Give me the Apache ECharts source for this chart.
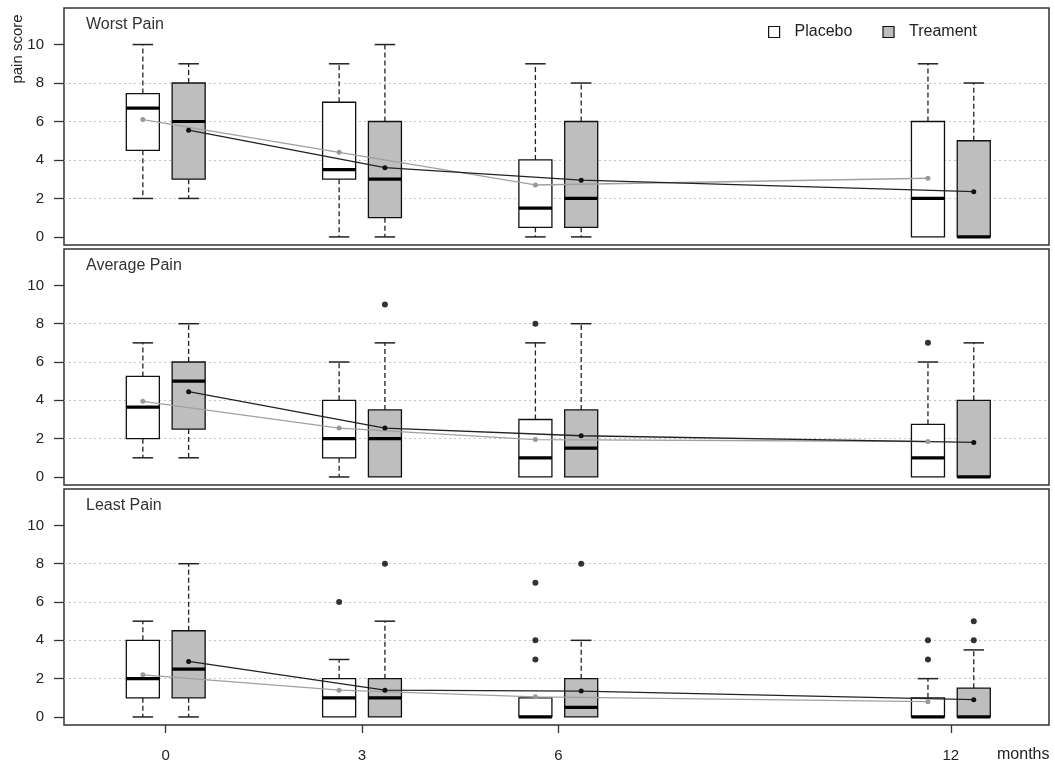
<!DOCTYPE html>
<html><head><meta charset="utf-8">
<script src="https://cdn.jsdelivr.net/npm/echarts@6/dist/echarts.min.js"></script>
<style>html,body{margin:0;padding:0;background:#fff}#c{width:1055px;height:763px}</style>
</head><body><div id="c"></div>
<script>
// ---- data ----
const months = [0, 3, 6, 12];
const panelTitles = ['Worst Pain', 'Average Pain', 'Least Pain'];
const yTicks = [0, 2, 4, 6, 8, 10];
const gridValues = [2, 4, 6, 8];
// box stats: [lower whisker, Q1, median, Q3, upper whisker]
const worstPlacebo = [[2,4.5,6.7,7.45,10],[0,3,3.5,7,9],[0,0.5,1.5,4,9],[0,0,2,6,9]];
const worstTreat   = [[2,3,6,8,9],[0,1,3,6,10],[0,0.5,2,6,8],[0,0,0,5,8]];
const worstMeanP = [6.1, 4.4, 2.7, 3.05];
const worstMeanT = [5.55, 3.6, 2.95, 2.35];
const worstOutP = [[],[],[],[]];
const worstOutT = [[],[],[],[]];

const avgPlacebo = [[1,2,3.65,5.25,7],[0,1,2,4,6],[0,0,1,3,7],[0,0,1,2.75,6]];
const avgTreat   = [[1,2.5,5,6,8],[0,0,2,3.5,7],[0,0,1.5,3.5,8],[0,0,0,4,7]];
const avgMeanP = [3.95, 2.55, 1.95, 1.85];
const avgMeanT = [4.45, 2.55, 2.15, 1.8];
const avgOutP = [[],[],[8],[7]];
const avgOutT = [[],[9],[],[]];

const leastPlacebo = [[0,1,2,4,5],[0,0,1,2,3],[0,0,0,1,1],[0,0,0,1,2]];
const leastTreat   = [[0,1,2.5,4.5,8],[0,0,1,2,5],[0,0,0.5,2,4],[0,0,0,1.5,3.5]];
const leastMeanP = [2.2, 1.4, 1.05, 0.8];
const leastMeanT = [2.9, 1.4, 1.35, 0.9];
const leastOutP = [[],[6],[7,4,3],[4,3]];
const leastOutT = [[],[8],[8],[5,4]];

// ---- layout/style ----
const OFF = 0.35, BOX_W = 0.505;
const FONT = 'Liberation Sans';
const panels = [
  {p: worstPlacebo, t: worstTreat, mp: worstMeanP, mt: worstMeanT, op: worstOutP, ot: worstOutT},
  {p: avgPlacebo, t: avgTreat, mp: avgMeanP, mt: avgMeanT, op: avgOutP, ot: avgOutT},
  {p: leastPlacebo, t: leastTreat, mp: leastMeanP, mt: leastMeanT, op: leastOutP, ot: leastOutT}
];
const gridTops = [8, 249, 489], gridHeights = [237, 236, 236];

function boxSeries(name, gi, stats, off, fill) {
  return {
    name, type: 'custom', xAxisIndex: gi, yAxisIndex: gi, z: 2,
    data: months.map((m, i) => [m + off].concat(stats[i])),
    encode: {x: 0, y: [1, 2, 3, 4, 5]},
    renderItem(params, api) {
      const x = api.value(0), lo = api.value(1), q1 = api.value(2), med = api.value(3), q3 = api.value(4), hi = api.value(5);
      const half = api.size([BOX_W, 0])[0] / 2, cap = half * 0.62;
      const cx = api.coord([x, 0])[0];
      const y = v => api.coord([x, v])[1];
      const ch = [];
      const ws = {stroke: '#222', lineWidth: 1.3, lineDash: [5, 3]};
      const cs = {stroke: '#222', lineWidth: 1.5};
      if (hi > q3) {
        ch.push({type: 'line', shape: {x1: cx, y1: y(q3), x2: cx, y2: y(hi)}, style: ws});
        ch.push({type: 'line', shape: {x1: cx - cap, y1: y(hi), x2: cx + cap, y2: y(hi)}, style: cs});
      }
      if (lo < q1) {
        ch.push({type: 'line', shape: {x1: cx, y1: y(q1), x2: cx, y2: y(lo)}, style: ws});
        ch.push({type: 'line', shape: {x1: cx - cap, y1: y(lo), x2: cx + cap, y2: y(lo)}, style: cs});
      }
      ch.push({type: 'rect', shape: {x: cx - half, y: y(q3), width: 2 * half, height: y(q1) - y(q3)},
        style: {fill, stroke: '#111', lineWidth: 1.3}});
      ch.push({type: 'line', shape: {x1: cx - half, y1: y(med), x2: cx + half, y2: y(med)},
        style: {stroke: '#000', lineWidth: 3.2}});
      return {type: 'group', children: ch};
    }
  };
}

const grids = [], xAxes = [], yAxes = [], series = [], graphics = [];
panels.forEach((pd, gi) => {
  grids.push({left: 64, top: gridTops[gi], width: 985, height: gridHeights[gi], show: true,
    borderColor: '#333', borderWidth: 1.5, backgroundColor: 'transparent'});
  const bottom = gi === 2;
  xAxes.push({type: 'value', gridIndex: gi, min: -1.555, max: 13.5, show: true, position: 'bottom',
    axisLine: {show: false, onZero: false}, splitLine: {show: false},
    axisTick: {show: bottom, length: 8, inside: false, customValues: months, lineStyle: {color: '#333', width: 1.3}},
    axisLabel: {show: bottom, customValues: months, margin: 23, fontSize: 15, fontFamily: FONT, color: '#222'}});
  yAxes.push({type: 'value', gridIndex: gi, min: -0.42, max: 11.9, position: 'left',
    axisLine: {show: false, onZero: false}, splitLine: {show: false},
    axisTick: {show: true, length: 10, customValues: yTicks, lineStyle: {color: '#333', width: 1.3}},
    axisLabel: {customValues: yTicks, margin: 20, fontSize: 15, fontFamily: FONT, color: '#222'}});
  // dotted grid lines
  series.push({type: 'line', xAxisIndex: gi, yAxisIndex: gi, data: [], z: 1, silent: true,
    markLine: {silent: true, z: 1, symbol: ['none', 'none'], label: {show: false},
      lineStyle: {color: '#c4c4c4', type: [2, 3], width: 1},
      data: gridValues.map(v => ({yAxis: v}))}});
  series.push(boxSeries('Placebo', gi, pd.p, -OFF, '#ffffff'));
  series.push(boxSeries('Treament', gi, pd.t, OFF, '#bebebe'));
  series.push({name: 'Placebo mean', type: 'line', xAxisIndex: gi, yAxisIndex: gi, z: 3,
    data: months.map((m, i) => [m - OFF, pd.mp[i]]), symbol: 'circle', symbolSize: 5,
    itemStyle: {color: '#999'}, lineStyle: {color: '#a0a0a0', width: 1.3}});
  series.push({name: 'Treament mean', type: 'line', xAxisIndex: gi, yAxisIndex: gi, z: 3,
    data: months.map((m, i) => [m + OFF, pd.mt[i]]), symbol: 'circle', symbolSize: 5,
    itemStyle: {color: '#111'}, lineStyle: {color: '#222', width: 1.3}});
  const outs = [];
  months.forEach((m, i) => {
    pd.op[i].forEach(v => outs.push([m - OFF, v]));
    pd.ot[i].forEach(v => outs.push([m + OFF, v]));
  });
  series.push({name: 'outliers', type: 'scatter', xAxisIndex: gi, yAxisIndex: gi, z: 4,
    data: outs, symbol: 'circle', symbolSize: 6, itemStyle: {color: '#000'}});
  graphics.push({type: 'text', left: 86, top: gridTops[gi] + 9,
    style: {text: panelTitles[gi], font: '16px "' + FONT + '"', fill: '#333'}});
});
graphics.push({type: 'text', x: 18, y: 49, rotation: Math.PI / 2,
  style: {text: 'pain score', font: '15px "' + FONT + '"', fill: '#222', align: 'center', verticalAlign: 'middle'}});
graphics.push({type: 'text', left: 997, top: 747,
  style: {text: 'months', font: '16px "' + FONT + '"', fill: '#222'}});

const chart = echarts.init(document.getElementById('c'), null, {renderer: 'canvas'});
chart.setOption({
  animation: false,
  backgroundColor: '#fff',
  grid: grids, xAxis: xAxes, yAxis: yAxes, series,
  legend: {left: 768, top: 24, padding: 0, itemWidth: 11, itemHeight: 11, itemGap: 30, selectedMode: false,
    textStyle: {fontSize: 16, fontFamily: FONT, color: '#222', padding: [0, 0, 0, 10]},
    data: [
      {name: 'Placebo', icon: 'rect', itemStyle: {color: '#fff', borderColor: '#111', borderWidth: 1.2}},
      {name: 'Treament', icon: 'rect', itemStyle: {color: '#bebebe', borderColor: '#111', borderWidth: 1.2}}
    ]},
  graphic: graphics
});
</script></body></html>
